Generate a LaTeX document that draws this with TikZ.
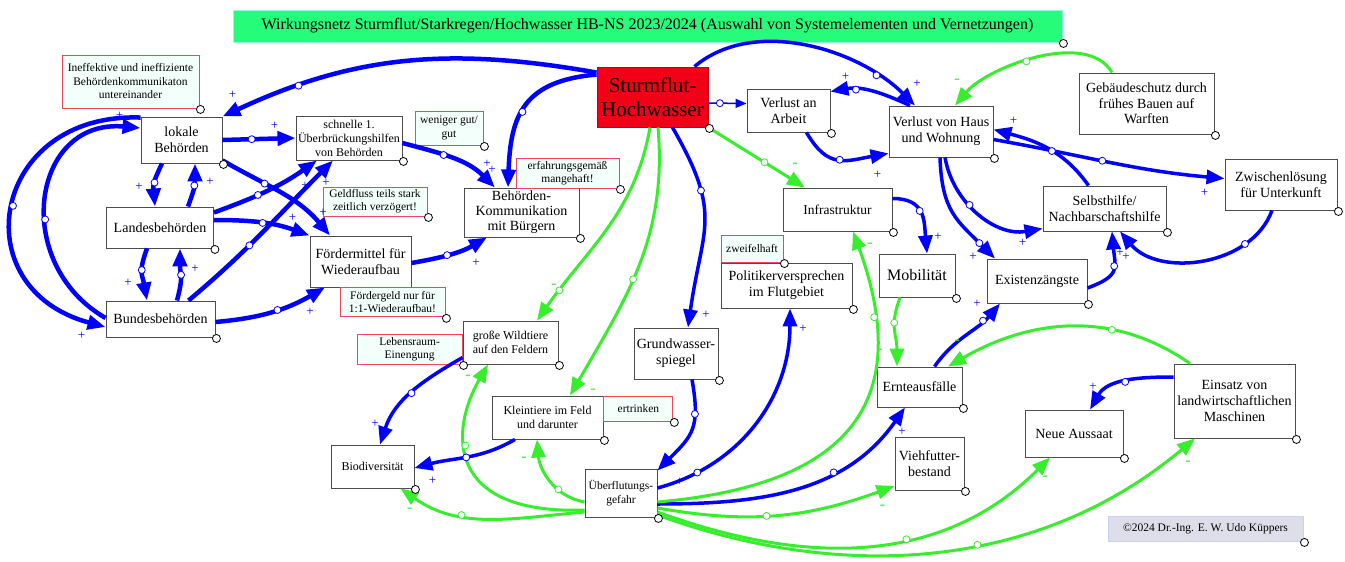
\documentclass[tikz,border=0pt]{standalone}
\usepackage{fontspec}
\setmainfont{Liberation Serif}
\usepackage{tikz}
\usetikzlibrary{
  positioning,
  arrows.meta,
  topaths
}

\definecolor{netblue}{RGB}{0,0,255}
\definecolor{netgreen}{RGB}{55,238,45}
\definecolor{titlegreen}{RGB}{38,252,122}
\definecolor{titleline}{RGB}{140,255,220}
\definecolor{floodred}{RGB}{242,0,24}
\definecolor{notered}{RGB}{238,70,90}
\definecolor{notefill}{RGB}{243,255,250}
\definecolor{copyfill}{RGB}{222,222,234}
\definecolor{copyline}{RGB}{200,210,238}

\newcommand{\fsz}[2]{\fontsize{#1}{#2}\selectfont}

\tikzset{
  elem/.style={
    draw=black!70,
    line width=0.9pt,
    fill=white,
    align=center,
    inner sep=1pt,
    font=\fsz{14}{16},
  },
  smallelem/.style={
    elem,
    font=\fsz{12}{14},
  },
  hazard/.style={
    elem,
    draw=floodred!80!black,
    fill=floodred,
    font=\fsz{21}{24},
  },
  remark/.style={
    elem,
    draw=notered,
    fill=notefill,
    font=\fsz{11.5}{13.5},
  },
  cdot/.style={
    circle,
    draw=black,
    fill=white,
    line width=0.8pt,
    inner sep=0pt,
    minimum size=8pt,
  },
  midc/.style={
    pos=#1,
    circle,
    draw,
    fill=white,
    line width=0.8pt,
    inner sep=0pt,
    minimum size=7pt,
  },
  lbl/.style 2 args={
    pos=1,
    xshift=#1pt,
    yshift=#2pt,
    inner sep=0pt,
    font=\fsz{13}{13},
  },
  nl/.style 2 args={
    lbl={#1}{#2},
    font=\fsz{16}{16},
  },
  posedge/.style={
    color=netblue,
    line width=3.5pt,
    -{Triangle[length=18pt,width=14pt]},
  },
  posthick/.style={
    posedge,
    line width=4.5pt,
  },
  negedge/.style={
    color=netgreen,
    line width=3pt,
    -{Triangle[length=18pt,width=14pt]},
  },
}

\begin{document}
\begin{tikzpicture}[x=1pt,y=1pt]
  \useasboundingbox (0,0) rectangle (1345,-562);

  % title and hazard
  \node[elem, draw=titleline, fill=titlegreen, minimum width=829pt, minimum height=32pt, font=\fsz{16}{18}] (title) at (647.5,-26)
    {Wirkungsnetz Sturmflut/Starkregen/Hochwasser HB-NS 2023/2024 (Auswahl von Systemelementen und Vernetzungen)};
  \node[hazard, minimum width=111pt, minimum height=60pt] (sturm) at (652.5,-97) {Sturmflut-\\Hochwasser};

  % authorities
  \node[elem, minimum width=81pt, minimum height=46pt] (lokale) at (181.5,-140) {lokale\\Beh\"orden};
  \node[elem, minimum width=107pt, minimum height=41pt] (landes) at (160,-227.5) {Landesbeh\"orden};
  \node[elem, minimum width=109pt, minimum height=36pt] (bundes) at (160.5,-319) {Bundesbeh\"orden};
  \node[smallelem, minimum width=106pt, minimum height=44pt] (schnelle) at (349,-138) {schnelle 1.\\\"Uberbr\"uckungshilfen\\von Beh\"orden};
  \node[elem, minimum width=101pt, minimum height=51pt] (foerder) at (360.5,-261.5) {F\"ordermittel f\"ur\\Wiederaufbau};
  \node[elem, font=\fsz{14}{15}, minimum width=115pt, minimum height=49pt] (bkom) at (521.5,-212.5) {Beh\"orden-\\Kommunikation\\mit B\"urgern};

  % house and work
  \node[elem, minimum width=83pt, minimum height=43pt] (arbeit) at (788.5,-110.5) {Verlust an\\Arbeit};
  \node[elem, minimum width=104pt, minimum height=51pt] (haus) at (941,-131.5) {Verlust von Haus\\und Wohnung};
  \node[elem, font=\fsz{14}{15.5}, minimum width=135pt, minimum height=61pt] (geb) at (1146.5,-103.5) {Geb\"audeschutz durch\\fr\"uhes Bauen auf\\Warften};
  \node[elem, minimum width=112pt, minimum height=51pt] (zwischen) at (1281,-184.5) {Zwischenl\"osung\\f\"ur Unterkunft};
  \node[elem, minimum width=123pt, minimum height=45pt] (selbst) at (1104.5,-208.5) {Selbsthilfe/\\Nachbarschaftshilfe};
  \node[elem, font=\fsz{13.5}{16}, minimum width=109pt, minimum height=43pt] (infra) at (837.5,-209.5) {Infrastruktur};
  \node[elem, font=\fsz{16}{18}, minimum width=76pt, minimum height=43pt] (mobil) at (917,-275.5) {Mobilit\"at};
  \node[elem, minimum width=100pt, minimum height=44pt] (exist) at (1037,-281) {Existenz\"angste};
  \node[elem, minimum width=131pt, minimum height=45pt] (polit) at (786.5,-285.5) {Politikerversprechen\\im Flutgebiet};

  % fields and farming
  \node[elem, minimum width=85pt, minimum height=40pt] (ernte) at (919.5,-387) {Ernteausf\"alle};
  \node[elem, minimum width=69pt, minimum height=53pt] (vieh) at (929.5,-463.5) {Viehfutter-\\bestand};
  \node[elem, minimum width=98pt, minimum height=47pt] (aussaat) at (1074,-433.5) {Neue Aussaat};
  \node[elem, minimum width=121pt, minimum height=74pt] (einsatz) at (1234.5,-401) {Einsatz von\\landwirtschaftlichen\\Maschinen};
  \node[elem, minimum width=84pt, minimum height=51pt] (grund) at (676,-353.5) {Grundwasser-\\spiegel};
  \node[smallelem, minimum width=95pt, minimum height=43pt] (wild) at (510.5,-342.5) {gro\ss e Wildtiere\\auf den Feldern};
  \node[smallelem, minimum width=111pt, minimum height=43pt] (klein) at (547.5,-417.5) {Kleintiere im Feld\\und darunter};
  \node[smallelem, minimum width=83pt, minimum height=43pt] (bio) at (372.5,-466.5) {Biodiversit\"at};
  \node[elem, font=\fsz{11.5}{14}, minimum width=72pt, minimum height=48pt] (ueber) at (621,-493) {\"Uberflutungs-\\gefahr};

  % remarks
  \node[remark, minimum width=137pt, minimum height=53pt] (nIneff) at (130.5,-81.5) {Ineffektive und ineffiziente\\Beh\"ordenkommunikaton\\untereinander};
  \node[remark, minimum width=68pt, minimum height=34pt] (nWeniger) at (449,-128) {weniger gut/\\gut};
  \node[remark, font=\fsz{11.5}{13}, minimum width=103pt, minimum height=30pt] (nErfahrung) at (567.5,-173) {erfahrungsgem\"a\ss\\mangehaft!};
  \node[remark, font=\fsz{11.5}{13}, minimum width=104pt, minimum height=29pt] (nGeld) at (375,-201.5) {Geldfluss teils stark\\zeitlich verz\"ogert!};
  \node[remark, font=\fsz{11.5}{13}, minimum width=105pt, minimum height=29pt, anchor=north west] (nFoerder) at ([xshift=30pt]foerder.south west) {F\"ordergeld nur f\"ur\\1:1-Wiederaufbau!};
  \node[remark, font=\fsz{11.5}{13}, minimum width=105pt, minimum height=30pt, anchor=south east] (nLebensraum) at (wild.south west) {Lebensraum-\\Einengung};
  \node[remark, minimum width=62pt, minimum height=27pt, anchor=south west] (nZweifel) at (polit.north west) {zweifelhaft};
  \node[remark, minimum width=69pt, minimum height=25pt, anchor=north west] (nErtrinken) at (klein.north east) {ertrinken};
  \node[remark, draw=copyline, fill=copyfill, font=\fsz{11.5}{13}, minimum width=195pt, minimum height=25pt] (copy) at (1205.5,-528.5) {\copyright 2024 Dr.-Ing. E. W. Udo K\"uppers};

  % edges between authorities
  \draw[posthick] (lokale.east) -- node[midc=.4]{} node[lbl={-21}{12}]{+} (schnelle.west);
  \draw[posthick] ([xshift=-19.5pt]lokale.south) to[out=-115,in=95,looseness=1.3] node[midc=.45]{} node[lbl={-16}{20}]{+} ([xshift=-5pt]landes.north);
  \draw[posthick] ([xshift=28pt]landes.north) to[out=70,in=-90,looseness=1.3] node[midc=.5]{} node[lbl={15}{-18}]{+} ([xshift=13.5pt]lokale.south);
  \draw[posthick] ([xshift=-13pt]landes.south) to[out=-110,in=100,looseness=1.3] node[midc=.4]{} node[lbl={-19}{18}]{+} ([xshift=-13.5pt]bundes.north);
  \draw[posthick] ([xshift=16.5pt]bundes.north) to[out=75,in=-90,looseness=1.3] node[midc=.5]{} node[lbl={15}{-20}]{+} ([xshift=20pt]landes.south);
  \draw[posthick] ([yshift=-1pt]lokale.north west) to[out=178,in=165,looseness=1.8] node[midc=.5]{} node[lbl={-24}{-9}]{+} ([yshift=-8pt]bundes.west);
  \draw[posthick] ([yshift=1pt]bundes.west) to[out=150,in=175,looseness=1.45] node[midc=.42]{} node[lbl={-21}{12}]{+} ([yshift=12pt]lokale.west);
  \draw[posthick] ([yshift=15pt]landes.east) to[out=20,in=-145] node[midc=.4]{} node[lbl={-12}{-25}]{+} ([xshift=-32pt]schnelle.south);
  \draw[posthick] ([xshift=28pt]bundes.north) to[out=40,in=-135] node[midc=.4]{} node[lbl={-7}{-22}]{+} ([xshift=-16pt]schnelle.south);
  \draw[posthick] ([yshift=3pt]lokale.south east) to[out=-30,in=130] node[midc=.35]{} node[lbl={-7}{23}]{+} ([xshift=-30.5pt]foerder.north);
  \draw[posthick] ([yshift=7.5pt]landes.east) to[out=0,in=160] node[midc=.5]{} node[lbl={-17}{18}]{+} (foerder.north west);
  \draw[posthick] ([yshift=-3pt]bundes.east) to[out=5,in=-150] node[midc=.55]{} node[lbl={-15}{-24}]{+} ([xshift=-35.5pt]foerder.south);
  \draw[posthick] ([yshift=-1.5pt]foerder.east) to[out=10,in=-150] node[midc=.45]{} node[lbl={-11}{-25}]{+} ([xshift=-34.5pt]bkom.south);
  \draw[posthick] ([yshift=-5pt]schnelle.east) to[out=-15,in=135] node[midc=.4]{} node[lbl={-8}{24}]{+} ([xshift=-26.5pt]bkom.north);

  % edges from the storm surge
  \draw[posthick] ([yshift=-6pt]sturm.north west) to[out=170,in=25] node[midc=.8]{} node[lbl={10}{22}]{+} (lokale.north east);
  \draw[posthick] ([yshift=-8pt]sturm.north west) to[out=185,in=88,looseness=1.3] node[midc=.55]{} node[lbl={-16}{18}]{+} ([xshift=-13.5pt]bkom.north);
  \draw[posedge, line width=1.5pt, -{Triangle[length=11pt,width=9pt]}] ([yshift=-6pt]sturm.east) -- node[midc=.3]{} ([yshift=7pt]arbeit.west);
  \draw[posedge] ([xshift=42pt]sturm.north) to[out=40,in=135,looseness=.9] node[midc=.8]{} node[lbl={2}{22}]{+} ([xshift=-26pt]haus.north);
  \draw[posedge] ([xshift=20pt]sturm.south) to[out=-60,in=82,looseness=1.3] node[midc=.3]{} node[lbl={18}{13}]{+} ([xshift=12pt]grund.north);
  \draw[negedge] (sturm.south east) -- node[midc=.58]{} node[nl={-10}{22}]{-} ([xshift=-32.5pt]infra.north);
  \draw[negedge] ([xshift=-2.5pt]sturm.south) to[out=-100,in=55] node[midc=.85]{} node[nl={17}{34}]{-} ([xshift=26.5pt]wild.north);
  \draw[negedge] ([xshift=5.5pt]sturm.south) to[out=-85,in=60] node[midc=.55]{} node[nl={23}{4}]{-} ([xshift=22.5pt]klein.north);

  % house, work, self help
  \draw[posedge] ([xshift=-31pt]haus.north) to[out=155,in=10] node[midc=.7]{} node[lbl={15}{15}]{+} ([yshift=19pt]arbeit.east);
  \draw[posedge] ([xshift=18pt]arbeit.south) to[out=-60,in=190,looseness=1.3] node[midc=.5]{} node[lbl={-11}{-21}]{+} ([yshift=4pt]haus.south west);
  \draw[posedge] ([yshift=-8pt]haus.east) to[out=-10,in=175] node[midc=.47]{} node[lbl={-20}{-14}]{+} ([yshift=6pt]zwischen.west);
  \draw[posedge] ([xshift=-16pt]selbst.north) to[out=125,in=-15] node[midc=.45]{} node[lbl={20}{9}]{+} ([yshift=2pt]haus.east);
  \draw[posedge] ([xshift=4pt]haus.south) to[out=-80,in=190] node[midc=.4]{} node[lbl={-20}{-14}]{+} ([yshift=-20pt]selbst.west);
  \draw[posedge] ([xshift=-1pt]haus.south) to[out=-88,in=135,looseness=1.2] node[midc=.85]{} node[lbl={-22}{2}]{+} ([xshift=-42pt]exist.north);
  \draw[posedge] ([xshift=-9pt]zwischen.south) to[out=-110,in=-50] node[midc=.25]{} node[lbl={6}{-25}]{+} ([xshift=15.5pt]selbst.south);
  \draw[posedge] ([yshift=-7pt]exist.east) to[out=20,in=-85,looseness=1.5] node[midc=.55]{} node[lbl={8}{-21}]{+} ([xshift=7.5pt]selbst.south);
  \draw[negedge] ([xshift=-34.5pt]geb.north) to[out=120,in=50,looseness=.8] node[midc=.55]{} node[nl={2}{24}]{-} ([xshift=14pt]haus.north);

  % infrastructure and crops
  \draw[posedge] ([yshift=11pt]infra.east) to[out=0,in=95,looseness=1.3] node[midc=.45]{} node[lbl={11}{17}]{+} ([xshift=10pt]mobil.north);
  \draw[posedge] ([xshift=15pt]ernte.north) to[out=55,in=-130] node[midc=.75]{} node[lbl={-23}{0}]{+} ([xshift=-37pt]exist.south);
  \draw[negedge] ([xshift=-17pt]mobil.south) to[out=-110,in=90,looseness=1.2] node[midc=.35]{} node[nl={-17}{15}]{-} ([xshift=-22.5pt]ernte.north);
  \draw[negedge] ([xshift=-44.5pt]einsatz.north) to[out=145,in=30] node[midc=.33]{} node[nl={9}{24}]{-} ([xshift=28.5pt]ernte.north);
  \draw[posedge] ([yshift=24pt]einsatz.west) to[out=180,in=60] node[midc=.5]{} node[lbl={3}{23}]{+} ([xshift=16pt]aussaat.north);

  % flood danger
  \draw[posedge] ([xshift=16pt]grund.south) to[out=-80,in=45,looseness=1.3] node[midc=.3]{} node[lbl={22}{-11}]{+} ([yshift=-2pt]ueber.north east);
  \draw[posedge] ([yshift=5pt]ueber.east) to[out=15,in=-90] node[midc=.17]{} node[lbl={13}{-20}]{+} ([xshift=3.5pt]polit.south);
  \draw[posedge] ([yshift=-11pt]ueber.east) to[out=0,in=-125] node[midc=.65]{} node[lbl={-3}{-24}]{+} ([xshift=-14.5pt]ernte.south);
  \draw[negedge] ([yshift=-9pt]ueber.east) to[out=5,in=-70,out distance=170pt,in distance=200pt] node[midc=.83]{} node[nl={17}{-14}]{-} ([xshift=15.5pt]infra.south);
  \draw[negedge] ([yshift=-15pt]ueber.east) to[out=-10,in=-160] node[midc=.45]{} node[nl={-12}{-21}]{-} ([yshift=-22.5pt]vieh.west);
  \draw[negedge] ([yshift=-19pt]ueber.east) to[out=-20,in=-135] node[midc=.6]{} node[nl={-5}{-21}]{-} ([xshift=-24pt]aussaat.south);
  \draw[negedge] ([yshift=-22pt]ueber.east) to[out=-20,in=-140,looseness=.95] node[midc=.57]{} node[nl={-7}{-25}]{-} ([xshift=-39.5pt]einsatz.south);
  \draw[negedge] ([yshift=-17pt]ueber.west) to[out=182,in=-120,out distance=140pt,in distance=76pt] node[midc=.6]{} node[nl={-20}{-13}]{-} ([xshift=-22.5pt]wild.south);
  \draw[negedge] ([yshift=-9pt]ueber.west) to[out=170,in=-85] node[midc=.35]{} node[nl={-13}{-20}]{-} ([xshift=-10.5pt]klein.south);
  \draw[negedge] ([yshift=-19pt]ueber.west) to[out=185,in=-35] node[midc=.65]{} node[nl={9}{-22}]{-} ([xshift=28pt]bio.south);

  % biodiversity
  \draw[posedge] ([yshift=-15pt]wild.west) to[out=-150,in=72] node[midc=.5]{} node[lbl={-5}{21}]{+} ([xshift=7.5pt]bio.north);
  \draw[posedge] ([xshift=-32.5pt]klein.south) to[out=-150,in=15] node[midc=.5]{} node[lbl={18}{-13}]{+} ([yshift=-1.5pt]bio.east);

  % corner handles
  \foreach \n in {title, sturm, lokale, schnelle, landes, bundes, bkom, arbeit, haus, geb, zwischen,
                  selbst, infra, mobil, exist, polit, ernte, vieh, aussaat, einsatz, grund, wild, klein,
                  bio, ueber, nIneff, nWeniger, nErfahrung, nGeld, nFoerder, nLebensraum, nZweifel,
                  nErtrinken, copy}
    \node[cdot] (\n-h) at ([shift={(1pt,-1pt)}]\n.south east) {};
\end{tikzpicture}
\end{document}
